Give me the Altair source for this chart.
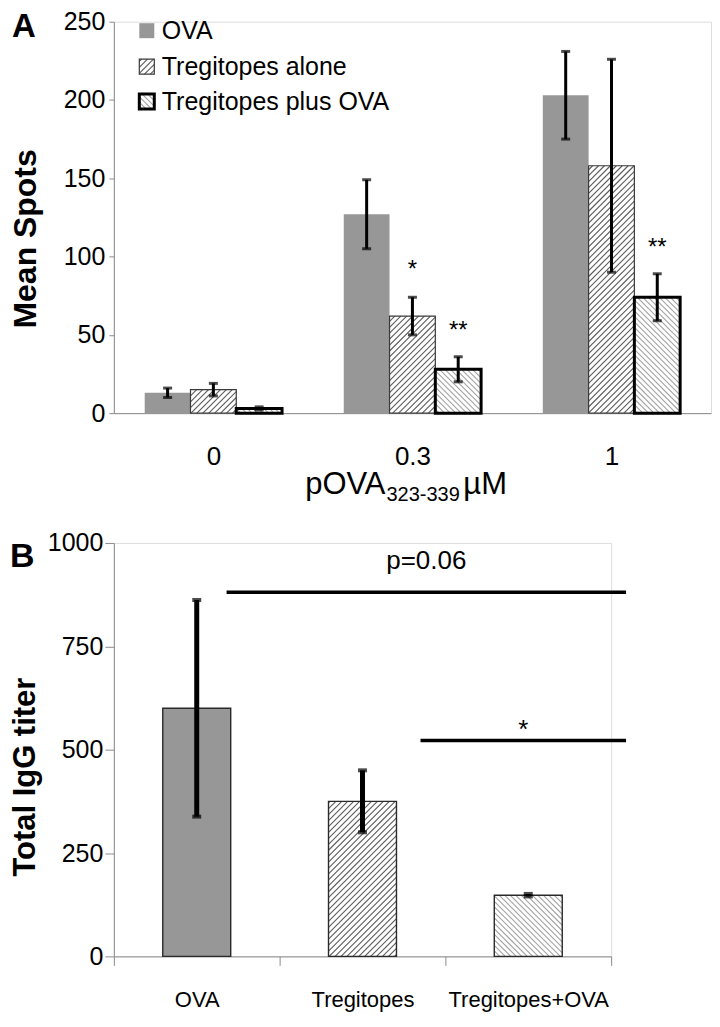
import altair as alt
import pandas as pd
import numpy as np

FONT = "Liberation Sans"

# ---------------- Panel A values ----------------
conc_labels = ["0", "0.3", "1"]
series_A = ["OVA", "Tregitopes alone", "Tregitopes plus OVA"]
ova_mean = [13, 127, 203]
ova_err = [3, 22, 28]
alone_mean = [15, 62, 158]
alone_err = [4, 12, 68]
plus_mean = [3, 28, 74]
plus_err = [1, 8, 15]
star_group = [1, 1, 2]
star_series = [1, 2, 2]
star_text = ["*", "**", "**"]
star_y = [87, 48, 101]

# ---------------- Panel B values ----------------
cats_B = ["OVA", "Tregitopes", "Tregitopes+OVA"]
igg_mean = [600, 375, 148]
igg_err = [262, 75, 3]
sig_text = ["p=0.06", "*"]
sig_from = [0.68, 1.85]
sig_to = [3.09, 3.09]
sig_y = [881, 522]
sig_label_y = [937, 527]

# ---------------- layout / style ----------------
WA, HA = 598, 392
WB, HB = 498, 414
YMAX_A, YMAX_B = 250, 1000
BAR_A, BAR_B = 0.23, 0.41
AXIS_GREY = "#8c8c8c"

STYLE_A = [
    dict(fill="#979797", stroke="#979797", sw=0, hatch=None, hc="#000", sp=4),
    dict(fill="white", stroke="#3a3a3a", sw=1.2, hatch="/", hc="#5c5c5c", sp=4.2),
    dict(fill="white", stroke="black", sw=3, hatch="\\", hc="#a3a3a3", sp=3.9),
]
STYLE_B = [
    dict(fill="#979797", stroke="#2a2a2a", sw=1.4, hatch=None, hc="#000", sp=4),
    dict(fill="white", stroke="#2a2a2a", sw=1.4, hatch="/", hc="#5c5c5c", sp=4.2),
    dict(fill="white", stroke="#2a2a2a", sw=1.4, hatch="\\", hc="#a3a3a3", sp=3.9),
]


def hatch_segments(r, W, H, ymax):
    """Diagonal hatch lines clipped to a bar, returned in data units."""
    sx, sy = W / 3.0, H / ymax
    X0, X1 = r["x0"] * sx, r["x1"] * sx
    Yt, Yb = H - r["y1"] * sy, H - r["y0"] * sy
    step = r["sp"] * np.sqrt(2)
    out = []
    if r["hatch"] == "/":
        c = np.ceil((X0 + Yt) / step) * step
        while c < X1 + Yb:
            xa, xb = max(X0, c - Yb), min(X1, c - Yt)
            if xb - xa > 0.3:
                out.append((xa, c - xa, xb, c - xb))
            c += step
    elif r["hatch"] == "\\":
        c = np.ceil((X0 - Yb) / step) * step
        while c < X1 - Yt:
            xa, xb = max(X0, c + Yt), min(X1, c + Yb)
            if xb - xa > 0.3:
                out.append((xa, xa - c, xb, xb - c))
            c += step
    return [dict(hx=a / sx, hy=(H - b) / sy, hx2=cc / sx, hy2=(H - d) / sy, hc=r["hc"])
            for a, b, cc, d in out]


# ================= Panel A =================
sxA, syA = WA / 3.0, HA / YMAX_A
means_A = [ova_mean, alone_mean, plus_mean]
errs_A = [ova_err, alone_err, plus_err]

bars_A = []
for g in range(len(conc_labels)):
    for s in range(len(series_A)):
        c = g + 0.5 + (s - 1) * BAR_A
        st = STYLE_A[s]
        m, e = means_A[s][g], errs_A[s][g]
        bars_A.append(dict(x0=c - BAR_A / 2, x1=c + BAR_A / 2, y0=0, y1=m, xc=c,
                           lo=m - e, hi=m + e, **st))

# legend squares (pixel layout inside plot, converted to data units)
leg_px_y = [9, 45, 80]
leg_cx, leg_half = 33, 7.5
legend_rows = []
for s, name in enumerate(series_A):
    st = STYLE_A[s]
    yc = leg_px_y[s]
    legend_rows.append(dict(x0=(leg_cx - leg_half) / sxA, x1=(leg_cx + leg_half) / sxA,
                            y0=(HA - yc - leg_half) / syA, y1=(HA - yc + leg_half) / syA,
                            label=name, ty=(HA - yc) / syA, tx=48 / sxA, **st))

rects_A = pd.DataFrame(bars_A + legend_rows)
hatch_A = pd.DataFrame([seg for r in bars_A + legend_rows for seg in hatch_segments(r, WA, HA, YMAX_A)])
err_A = pd.DataFrame(bars_A)
leg_A = pd.DataFrame(legend_rows)
stars_A = pd.DataFrame(dict(
    xs=[g + 0.5 + (s - 1) * BAR_A for g, s in zip(star_group, star_series)],
    ys=star_y, t=star_text))

label_expr_A = " : ".join(
    [f"datum.value == {i + 0.5} ? '{l}'" for i, l in enumerate(conc_labels)]) + " : ''"

axis_xA = alt.Axis(values=[0.5, 1.5, 2.5], labelExpr=label_expr_A, ticks=False, tickSize=0,
                   labelPadding=30, labelFontSize=26, labelColor="black", grid=False,
                   domainColor=AXIS_GREY, labelFont=FONT)
axis_yA = alt.Axis(values=[0, 50, 100, 150, 200, 250], tickSize=5, tickColor=AXIS_GREY,
                   domainColor=AXIS_GREY, labelFontSize=25, labelPadding=4, labelColor="black",
                   title="Mean Spots", titleFontSize=32, titleFontWeight="bold",
                   titleColor="black", titlePadding=21, titleY=HA / 2 + 21,
                   grid=False, labelFont=FONT, titleFont=FONT)
scx_A = alt.Scale(domain=[0, 3], nice=False, zero=False)
scy_A = alt.Scale(domain=[0, YMAX_A], nice=False)


def xa(f):
    return alt.X(f, type="quantitative", scale=scx_A, axis=axis_xA, title=None)


def ya(f):
    return alt.Y(f, type="quantitative", scale=scy_A, axis=axis_yA)


a_fill = alt.Chart(rects_A).mark_rect().encode(
    x=xa("x0"), x2="x1", y=ya("y0"), y2="y1",
    fill=alt.Fill("fill:N", scale=None))
a_hatch = alt.Chart(hatch_A).mark_rule(strokeWidth=1.1).encode(
    x=xa("hx"), x2="hx2", y=ya("hy"), y2="hy2",
    color=alt.Color("hc:N", scale=None))
a_outline = alt.Chart(rects_A).mark_rect(fillOpacity=0).encode(
    x=xa("x0"), x2="x1", y=ya("y0"), y2="y1",
    stroke=alt.Stroke("stroke:N", scale=None),
    strokeWidth=alt.StrokeWidth("sw:Q", scale=None))
a_err = alt.Chart(err_A).mark_rule(strokeWidth=3, color="black").encode(
    x=xa("xc"), y=ya("lo"), y2="hi")
a_cap_hi = alt.Chart(err_A).mark_tick(orient="horizontal", size=9, thickness=3, color="black").encode(
    x=xa("xc"), y=ya("hi"))
a_cap_lo = alt.Chart(err_A).mark_tick(orient="horizontal", size=9, thickness=3, color="black").encode(
    x=xa("xc"), y=ya("lo"))
a_stars = alt.Chart(stars_A).mark_text(fontSize=24, font=FONT, baseline="alphabetic",
                                       color="black").encode(
    x=xa("xs"), y=ya("ys"), text="t:N")
a_leg_text = alt.Chart(leg_A).mark_text(fontSize=25, font=FONT, align="left", baseline="middle",
                                        color="black").encode(
    x=xa("tx"), y=ya("ty"), text="label:N")
a_letter = alt.Chart(pd.DataFrame(dict(t=["A"]))).mark_text(
    fontSize=33, fontWeight="bold", font=FONT, align="left", baseline="top", color="black").encode(
    x=alt.value(-102), y=alt.value(-11), text="t:N")
a_title1 = alt.Chart(pd.DataFrame(dict(t=["pOVA"]))).mark_text(
    fontSize=31, font=FONT, align="right", baseline="alphabetic", color="black").encode(
    x=alt.value(272), y=alt.value(HA + 81), text="t:N")
a_title2 = alt.Chart(pd.DataFrame(dict(t=["323-339"]))).mark_text(
    fontSize=20, font=FONT, align="left", baseline="alphabetic", color="black").encode(
    x=alt.value(273), y=alt.value(HA + 88), text="t:N")
a_title3 = alt.Chart(pd.DataFrame(dict(t=["µM"]))).mark_text(
    fontSize=31, font=FONT, align="left", baseline="alphabetic", color="black").encode(
    x=alt.value(350), y=alt.value(HA + 81), text="t:N")

panel_A = alt.layer(a_fill, a_hatch, a_outline, a_err, a_cap_hi, a_cap_lo, a_stars,
                    a_leg_text, a_letter, a_title1, a_title2, a_title3).properties(
    width=WA, height=HA)

# ================= Panel B =================
bars_B = []
for i, cat in enumerate(cats_B):
    c = i + 0.5
    st = STYLE_B[i]
    m, e = igg_mean[i], igg_err[i]
    bars_B.append(dict(x0=c - BAR_B / 2, x1=c + BAR_B / 2, y0=0, y1=m, xc=c,
                       lo=m - e, hi=m + e, **st))
rects_B = pd.DataFrame(bars_B)
hatch_B = pd.DataFrame([seg for r in bars_B for seg in hatch_segments(r, WB, HB, YMAX_B)])
sig_B = pd.DataFrame(dict(t=sig_text, x1=sig_from, x2=sig_to, y=sig_y, ly=sig_label_y,
                          lx=[(a + b) / 2 for a, b in zip(sig_from, sig_to)]))

label_expr_B = " : ".join(
    [f"datum.value == {i + 0.5} ? '{l}'" for i, l in enumerate(cats_B)]) + " : ''"
axis_xB = alt.Axis(values=[0, 0.5, 1, 1.5, 2, 2.5, 3], labelExpr=label_expr_B, tickSize=9,
                   tickColor=AXIS_GREY,
                   tickOpacity={"condition": {"test": "datum.value % 1 != 0", "value": 0}, "value": 1},
                   labelPadding=24, labelFontSize=22, labelColor="black", grid=False,
                   domainColor=AXIS_GREY, labelFont=FONT)
axis_yB = alt.Axis(values=[0, 250, 500, 750, 1000], format="d", tickSize=9, tickColor=AXIS_GREY,
                   domainColor=AXIS_GREY, labelFontSize=25, labelPadding=2, labelColor="black",
                   title="Total IgG titer", titleFontSize=31, titleFontWeight="bold",
                   titleColor="black", titlePadding=6, titleY=HB / 2 + 27,
                   grid=False, labelFont=FONT, titleFont=FONT)
scx_B = alt.Scale(domain=[0, 3], nice=False, zero=False)
scy_B = alt.Scale(domain=[0, YMAX_B], nice=False)


def xb(f):
    return alt.X(f, type="quantitative", scale=scx_B, axis=axis_xB, title=None)


def yb(f):
    return alt.Y(f, type="quantitative", scale=scy_B, axis=axis_yB)


b_fill = alt.Chart(rects_B).mark_rect().encode(
    x=xb("x0"), x2="x1", y=yb("y0"), y2="y1", fill=alt.Fill("fill:N", scale=None))
b_hatch = alt.Chart(hatch_B).mark_rule(strokeWidth=1.1).encode(
    x=xb("hx"), x2="hx2", y=yb("hy"), y2="hy2", color=alt.Color("hc:N", scale=None))
b_outline = alt.Chart(rects_B).mark_rect(fillOpacity=0).encode(
    x=xb("x0"), x2="x1", y=yb("y0"), y2="y1",
    stroke=alt.Stroke("stroke:N", scale=None),
    strokeWidth=alt.StrokeWidth("sw:Q", scale=None))
b_err = alt.Chart(rects_B).mark_rule(strokeWidth=5, color="black").encode(
    x=xb("xc"), y=yb("lo"), y2="hi")
b_cap_hi = alt.Chart(rects_B).mark_tick(orient="horizontal", size=9, thickness=4, color="black").encode(
    x=xb("xc"), y=yb("hi"))
b_cap_lo = alt.Chart(rects_B).mark_tick(orient="horizontal", size=9, thickness=4, color="black").encode(
    x=xb("xc"), y=yb("lo"))
b_sig = alt.Chart(sig_B).mark_rule(strokeWidth=3.5, color="black").encode(
    x=xb("x1"), x2="x2", y=yb("y"))
b_sig_text = alt.Chart(sig_B).mark_text(fontSize=26, font=FONT, baseline="alphabetic",
                                        color="black").encode(
    x=xb("lx"), y=yb("ly"), text="t:N")
b_letter = alt.Chart(pd.DataFrame(dict(t=["B"]))).mark_text(
    fontSize=34, fontWeight="bold", font=FONT, align="left", baseline="top", color="black").encode(
    x=alt.value(-104), y=alt.value(-3), text="t:N")

panel_B = alt.layer(b_fill, b_hatch, b_outline, b_err, b_cap_hi, b_cap_lo, b_sig, b_sig_text,
                    b_letter).properties(width=WB, height=HB)

chart = alt.vconcat(panel_A, panel_B, spacing=24).properties(
    padding={"left": 0, "top": 0, "right": 0, "bottom": 0}
).configure_view(stroke=None).configure(font=FONT)

chart.save("out.html", embed_options={"renderer": "svg", "actions": False})
